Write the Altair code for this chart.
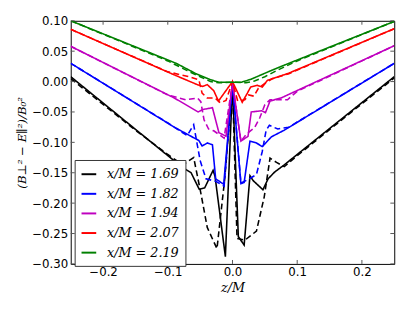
import altair as alt
import pandas as pd

labels = ["x/M = 1.69", "x/M = 1.82", "x/M = 1.94", "x/M = 2.07", "x/M = 2.19"]
colors = ["#000000", "#0000ff", "#bf00bf", "#ff0000", "#008000"]

# black (x/M = 1.69)
z_k_s = [-0.25, -0.079, -0.064, -0.0515, -0.043, -0.030, -0.027, -0.011, 0.0, 0.009, 0.018, 0.027, 0.032, 0.047, 0.055, 0.065, 0.08, 0.25]
v_k_s = [0.008, -0.140, -0.150, -0.177, -0.175, -0.146, -0.156, -0.288, -0.005, -0.255, -0.269, -0.155, -0.163, -0.178, -0.160, -0.149, -0.137, 0.008]
z_k_d = [-0.25, -0.15, -0.1, -0.077, -0.06, -0.049, -0.039, -0.024, -0.012, 0.0, 0.007, 0.019, 0.037, 0.049, 0.058, 0.068, 0.08, 0.1, 0.15, 0.25]
v_k_d = [0.005, -0.080, -0.120, -0.137, -0.125, -0.183, -0.240, -0.275, -0.160, -0.005, -0.258, -0.261, -0.246, -0.190, -0.126, -0.133, -0.140, -0.122, -0.079, 0.006]

# blue (x/M = 1.82)
z_b_s = [-0.25, -0.09, -0.052, -0.047, -0.039, -0.031, -0.026, -0.0136, 0.0, 0.013, 0.018, 0.027, 0.037, 0.046, 0.06, 0.08, 0.25]
v_b_s = [0.030, -0.075, -0.097, -0.106, -0.101, -0.104, -0.160, -0.169, -0.003, -0.168, -0.166, -0.098, -0.101, -0.107, -0.091, -0.080, 0.030]
z_b_d = [-0.25, -0.1, -0.07, -0.06, -0.05, -0.041, -0.026, -0.013, 0.0, 0.013, 0.026, 0.037, 0.046, 0.052, 0.057, 0.07, 0.087, 0.25]
v_b_d = [0.030, -0.068, -0.089, -0.071, -0.130, -0.160, -0.164, -0.172, -0.003, -0.167, -0.160, -0.153, -0.115, -0.080, -0.072, -0.078, -0.075, 0.030]

# magenta (x/M = 1.94)
z_m_s = [-0.25, -0.09, -0.053, -0.046, -0.031, -0.021, -0.010, 0.0, 0.013, 0.024, 0.029, 0.045, 0.051, 0.058, 0.075, 0.25]
v_m_s = [0.058, -0.027, -0.050, -0.046, -0.043, -0.084, -0.090, -0.002, -0.098, -0.090, -0.050, -0.048, -0.051, -0.032, -0.027, 0.059]
z_m_d = [-0.25, -0.1, -0.072, -0.054, -0.049, -0.044, -0.037, -0.029, -0.013, 0.0, 0.013, 0.022, 0.034, 0.042, 0.05, 0.058, 0.085, 0.1, 0.25]
v_m_d = [0.058, -0.022, -0.030, -0.027, -0.033, -0.063, -0.078, -0.081, -0.093, -0.002, -0.098, -0.086, -0.076, -0.060, -0.038, -0.030, -0.030, -0.016, 0.059]

# red (x/M = 2.07)
z_r_s = [-0.25, -0.09, -0.0545, -0.046, -0.039, -0.029, -0.0217, 0.0, 0.015, 0.023, 0.028, 0.038, 0.046, 0.054, 0.086, 0.25]
v_r_s = [0.086, 0.011, -0.005, -0.008, -0.005, -0.015, -0.032, 0.000, -0.034, -0.019, -0.009, -0.006, -0.009, 0.002, 0.0134, 0.087]
z_r_d = [-0.25, -0.1, -0.067, -0.052, -0.047, -0.039, -0.027, -0.019, -0.010, 0.0, 0.008, 0.019, 0.025, 0.033, 0.040, 0.050, 0.062, 0.087, 0.25]
v_r_d = [0.086, 0.016, 0.008, 0.003, -0.019, -0.027, -0.027, -0.035, -0.031, 0.000, -0.032, -0.030, -0.022, -0.024, -0.011, -0.003, 0.005, 0.013, 0.087]

# green (x/M = 2.19)
z_g_s = [-0.25, -0.087, -0.0565, -0.034, -0.021, 0.0, 0.014, 0.029, 0.055, 0.08, 0.25]
v_g_s = [0.100, 0.030, 0.013, 0.003, -0.001, -0.001, -0.001, 0.004, 0.016, 0.027, 0.099]
z_g_d = [-0.25, -0.1, -0.07, -0.05, -0.034, -0.021, 0.0, 0.021, 0.034, 0.05, 0.07, 0.1, 0.25]
v_g_d = [0.100, 0.034, 0.018, 0.008, 0.000, -0.002, -0.001, -0.002, 0.001, 0.008, 0.019, 0.034, 0.099]

x_ticks = [-0.2, -0.1, 0.0, 0.1, 0.2]
y_ticks = [-0.30, -0.25, -0.20, -0.15, -0.10, -0.05, 0.00, 0.05, 0.10]

series = [
    (labels[0], z_k_s, v_k_s, z_k_d, v_k_d),
    (labels[1], z_b_s, v_b_s, z_b_d, v_b_d),
    (labels[2], z_m_s, v_m_s, z_m_d, v_m_d),
    (labels[3], z_r_s, v_r_s, z_r_d, v_r_d),
    (labels[4], z_g_s, v_g_s, z_g_d, v_g_d),
]

x_enc = alt.X("z:Q", scale=alt.Scale(domain=[-0.25, 0.25], nice=False, zero=False),
              axis=alt.Axis(values=x_ticks, format=".1f", title="z/M"))
y_enc = alt.Y("v:Q", scale=alt.Scale(domain=[-0.30, 0.10], nice=False, zero=False),
              axis=alt.Axis(values=y_ticks, format=".2f", title="(B⊥² − E∥²)/B₀²",
                            titleFontSize=12))

color_enc = alt.Color("label:N", scale=alt.Scale(domain=labels, range=colors),
                      legend=alt.Legend(orient="none", legendX=4, legendY=142, title=None,
                                        symbolType="stroke", symbolSize=225, symbolStrokeWidth=2,
                                        labelFont="DejaVu Serif", labelFontStyle="italic",
                                        labelFontSize=13, labelOffset=10, rowPadding=4,
                                        padding=6, fillColor="white", strokeColor="#333333"))
dash_enc = alt.StrokeDash("style:N", scale=alt.Scale(domain=["solid", "dashed"], range=[[1, 0], [6, 3.5]]),
                          legend=None)

layers = []
for lab, zs, vs, zd, vd in series:
    rows = [{"label": lab, "style": "solid", "z": z, "v": v} for z, v in zip(zs, vs)]
    rows += [{"label": lab, "style": "dashed", "z": z, "v": v} for z, v in zip(zd, vd)]
    df = pd.DataFrame(rows)
    layers.append(
        alt.Chart(df).mark_line(strokeWidth=1.6, clip=True).encode(
            x=x_enc, y=y_enc, color=color_enc, strokeDash=dash_enc, detail="style:N"
        )
    )

xt = pd.DataFrame({"z": x_ticks})
yt = pd.DataFrame({"v": y_ticks})
tick_color = "#555555"
layers.append(alt.Chart(xt).mark_rule(color=tick_color, strokeWidth=1).encode(x=x_enc, y=alt.value(244), y2=alt.value(248)))
layers.append(alt.Chart(xt).mark_rule(color=tick_color, strokeWidth=1).encode(x=x_enc, y=alt.value(0), y2=alt.value(4)))
layers.append(alt.Chart(yt).mark_rule(color=tick_color, strokeWidth=1).encode(y=y_enc, x=alt.value(0), x2=alt.value(4)))
layers.append(alt.Chart(yt).mark_rule(color=tick_color, strokeWidth=1).encode(y=y_enc, x=alt.value(326), x2=alt.value(330)))

chart = alt.layer(*layers).properties(
    width=330, height=248,
    padding={"left": 64, "top": 10, "right": 13, "bottom": 46},
    autosize=alt.AutoSizeParams(type="none"),
).configure_view(stroke="black", strokeWidth=1).configure_axis(
    grid=False, ticks=False, domain=False,
    labelFont="DejaVu Sans", labelFontSize=12, labelColor="black", labelPadding=3,
    titleFont="DejaVu Serif", titleFontStyle="italic", titleFontSize=13,
    titleFontWeight="normal", titleColor="black",
).configure_axisX(titlePadding=4).configure_axisY(titlePadding=3)

chart.save("out.html", embed_options={"renderer": "svg", "actions": False})
